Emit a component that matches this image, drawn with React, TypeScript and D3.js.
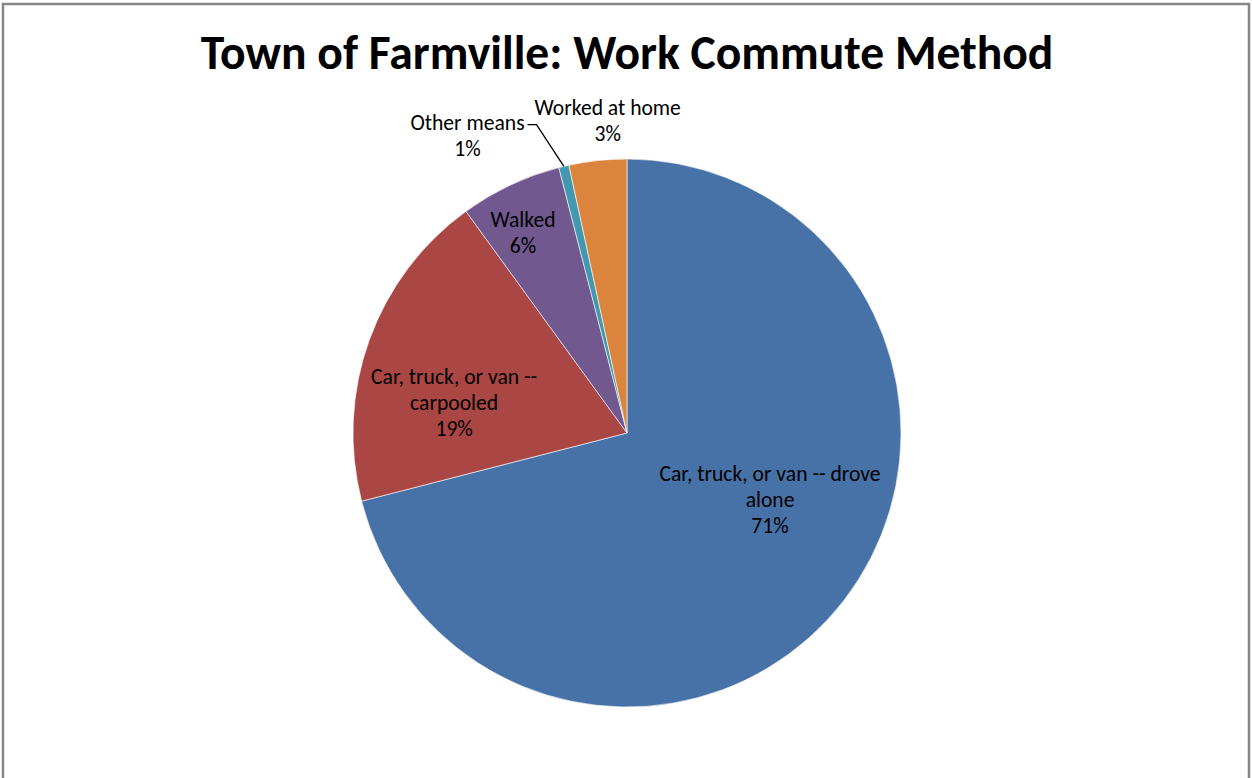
import React, { useEffect, useRef } from "react";
import * as d3 from "d3";

const categories = [
  "Car, truck, or van -- drove alone",
  "Car, truck, or van -- carpooled",
  "Walked",
  "Other means",
  "Worked at home",
];
const shares = [71.0, 19.0, 6.0, 0.6, 3.4];
const percentLabels = ["71%", "19%", "6%", "1%", "3%"];
const labelLines = [
  ["Car, truck, or van -- drove", "alone", "71%"],
  ["Car, truck, or van --", "carpooled", "19%"],
  ["Walked", "6%"],
  ["Other means", "1%"],
  ["Worked at home", "3%"],
];
const colors = ["#4672A7", "#AA4643", "#71588F", "#4198AF", "#DB843D"];

// layout: label centres relative to pie centre, in units of radius
const labelAnchor = [
  [0.522, 0.2445],
  [-0.631, -0.1095],
  [-0.3796, -0.7318],
  [-0.582, -1.083],
  [-0.0704, -1.138],
];
const leaderLabelIndex = 3;

const W = 1252;
const H = 778;
const FONT = "Carlito, Calibri, Lato, 'Open Sans', sans-serif";

export default function App() {
  const ref = useRef<SVGSVGElement>(null);

  useEffect(() => {
    const svg = d3.select(ref.current);
    svg.selectAll("*").remove();

    svg
      .append("rect")
      .attr("x", 0)
      .attr("y", 0)
      .attr("width", W)
      .attr("height", H)
      .attr("fill", "#fff");

    svg
      .append("rect")
      .attr("x", 3)
      .attr("y", 4)
      .attr("width", 1246)
      .attr("height", 820)
      .attr("fill", "none")
      .attr("stroke", "#868686")
      .attr("stroke-width", 2.5);

    svg
      .append("text")
      .attr("x", 627)
      .attr("y", 68.5)
      .attr("text-anchor", "middle")
      .attr("font-family", FONT)
      .attr("font-weight", "bold")
      .attr("font-size", 47.6)
      .attr("fill", "#000")
      .text("Town of Farmville: Work Commute Method");

    const cx = 627;
    const cy = 433;
    const r = 274;

    const pie = d3
      .pie<number>()
      .sort(null)
      .value((d) => d);
    const arcs = pie(shares);
    const arc = d3.arc<d3.PieArcDatum<number>>().innerRadius(0).outerRadius(r);

    const g = svg.append("g").attr("transform", `translate(${cx},${cy})`);
    g.selectAll("path.slice")
      .data(arcs)
      .join("path")
      .attr("class", "slice")
      .attr("d", arc as any)
      .attr("fill", (_, i) => colors[i])
      .attr("stroke", "#ffffff")
      .attr("stroke-width", 0.6);

    // leader line for small slice
    const a = arcs[leaderLabelIndex];
    const mid = (a.startAngle + a.endAngle) / 2;
    const ex = Math.sin(mid) * r;
    const ey = -Math.cos(mid) * r;
    const [lx, ly] = labelAnchor[leaderLabelIndex];
    const startX = lx * r + 60;
    const startY = ly * r - 11.6;
    g.append("path")
      .attr(
        "d",
        d3.line()([
          [startX, startY],
          [startX + 9, startY],
          [ex, ey],
        ])
      )
      .attr("fill", "none")
      .attr("stroke", "#000")
      .attr("stroke-width", 1.3);

    const lineH = 26;
    labelLines.forEach((lines, i) => {
      const [ax, ay] = labelAnchor[i];
      const x = ax * r;
      const y0 = ay * r - ((lines.length - 1) * lineH) / 2;
      const t = g
        .append("text")
        .attr("text-anchor", "middle")
        .attr("font-family", FONT)
        .attr("font-size", 21.6)
        .attr("fill", "#000");
      lines.forEach((ln, j) => {
        t.append("tspan")
          .attr("x", x)
          .attr("y", y0 + j * lineH)
          .attr("dy", "0.33em")
          .text(ln);
      });
    });
  }, []);

  return (
    <svg
      ref={ref}
      width={W}
      height={H}
      style={{ position: "absolute", left: 0, top: 0, display: "block" }}
      aria-label={categories.join(", ") + " " + percentLabels.join(" ")}
    />
  );
}
